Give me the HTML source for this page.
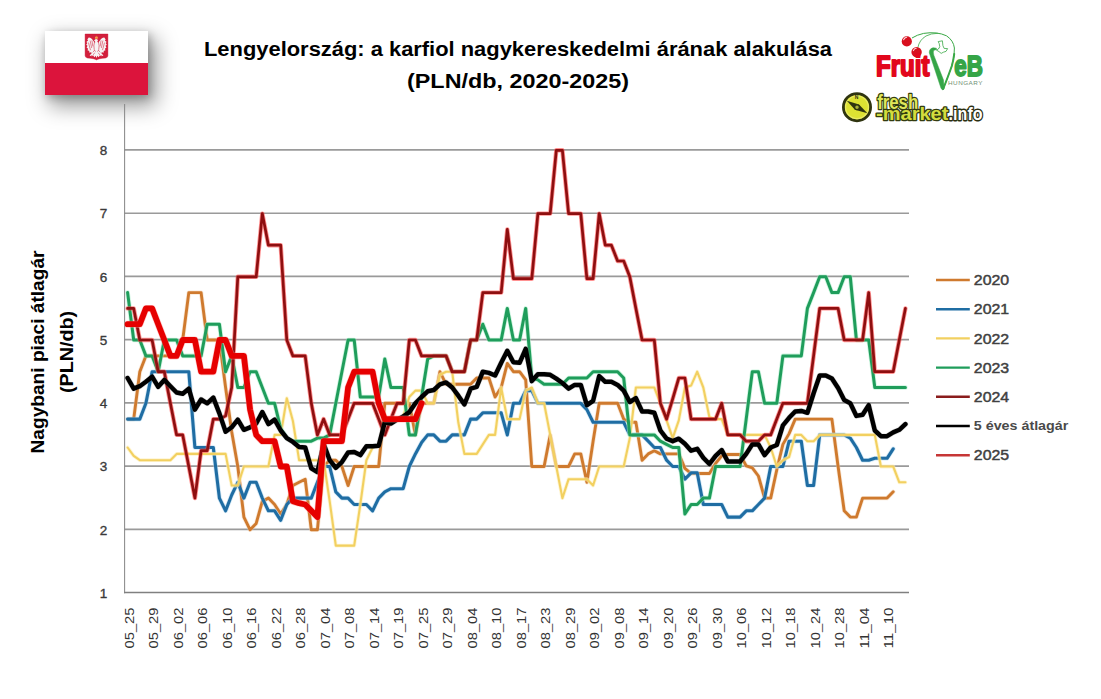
<!DOCTYPE html>
<html><head><meta charset="utf-8"><title>Lengyelország: a karfiol nagykereskedelmi árának alakulása</title>
<style>
html,body{margin:0;padding:0;background:#fff;}
body{width:1101px;height:699px;position:relative;overflow:hidden;font-family:"Liberation Sans",sans-serif;}
.flag{position:absolute;left:45px;top:31px;width:103px;height:64px;box-shadow:6px 9px 20px 2px rgba(0,0,0,.40),2px 3px 8px rgba(0,0,0,.22);background:linear-gradient(#fff 0,#fff 50%,#dc143c 50%,#dc143c 100%);}
</style></head><body>
<div class="flag"></div>
<svg style="position:absolute;left:80px;top:30px" width="34" height="34" viewBox="80 30 34 34">
<path d="M85.1 34 H107.9 V55.6 Q107.9 57.6 105.6 58 Q98.5 58.4 96.5 59.9 Q94.5 58.4 87.4 58 Q85.1 57.6 85.1 55.6 Z" fill="#d21f3c" stroke="#c8102e" stroke-width="0.4"/>
<g fill="#f6f4f4">
<path d="M95.8 44 L93.8 41.6 Q91.5 37.6 88.7 37.6 L87.3 39.6 L88.1 40.4 L86.3 42 L87.4 43 L86.2 44.8 L87.5 45.8 L86.6 47.8 L88 48.6 L87.6 50.6 L89.2 50.8 L89.4 52.8 L91 52.2 L92.2 53.4 L93.2 51.4 L95 49.6 Z"/>
<path d="M97.2 44 L99.2 41.6 Q101.5 37.6 104.3 37.6 L105.7 39.6 L104.9 40.4 L106.7 42 L105.6 43 L106.8 44.8 L105.5 45.8 L106.4 47.8 L105.0 48.6 L105.4 50.6 L103.8 50.8 L103.6 52.8 L102.0 52.2 L100.8 53.4 L99.8 51.4 L98.0 49.6 Z"/>
<path d="M94.8 50.5 L91.4 53.6 L89.6 55.6 L90.8 56 L91.6 55 L91.8 56.4 L92.8 55.2 L93.6 56 L93.4 54 L95.6 52 Z"/>
<path d="M98.2 50.5 L101.6 53.6 L103.4 55.6 L102.2 56 L101.4 55 L101.2 56.4 L100.2 55.2 L99.4 56 L99.6 54 L97.4 52 Z"/>
<ellipse cx="96.5" cy="46.6" rx="2.2" ry="5"/>
<circle cx="96.2" cy="40.6" r="1.7"/>
<path d="M93.9 40.7 L95.3 39.7 L95.3 41.5 Z"/>
<path d="M96.5 50 L93.2 55.4 L94.4 57.2 L95.6 55.8 L96.5 58 L97.4 55.8 L98.6 57.2 L99.8 55.4 Z"/>
</g>
<g stroke="#d21f3c" stroke-width="0.55" fill="none" stroke-linecap="round"><path d="M94.4 42.4 Q93.4 45.6 94.2 49.4"/><path d="M98.6 42.4 Q99.6 45.6 98.8 49.4"/><path d="M94.6 41.6 L93.6 40.2"/><path d="M98 41.6 L99.2 40.2"/><path d="M90.2 41 L91.6 47.6 M88.6 43 L90.4 49.8 M92 40.8 L92.8 46"/><path d="M102.8 41 L101.4 47.6 M104.4 43 L102.6 49.8 M101 40.8 L100.2 46"/></g>
<path d="M95 38.7 L95 36.2 L95.9 37.2 L96.4 35.6 L96.9 37.2 L97.8 36.2 L97.8 38.7 Z" fill="#f6a24a"/>
</svg>
<svg style="position:absolute;left:830px;top:20px;font-family:'Liberation Sans',sans-serif" width="180" height="110" viewBox="830 20 180 110">
<!-- FruitVeB -->
<g fill="none" stroke="#39a845" stroke-linecap="round">
<path d="M943.2 89 Q949 74 951.8 66 Q954.8 56 954.4 48 Q953.5 40.5 946.5 35.8 Q937 31.3 923.6 33.4 Q917 34.8 912.3 37.8" stroke-width="1.0"/>
<path d="M943.2 89 Q949 74 951.8 66 Q953.6 59.5 954.2 54" stroke-width="2.0"/>
<path d="M917.9 47.3 Q919.3 40 926 36 Q931 33.3 937.5 33.3" stroke-width="0.8"/>
</g>
<path d="M936.4 48.2 Q932.5 46.9 930.6 48.9 Q929 50.6 929.3 52.8 L941.1 88.6 L942.7 90 L944.2 88.4 L943.5 80 L933.8 55.2 Q932.7 51.3 934 50.2 Q935 49.5 936.4 49.9 Z" fill="#35a547" stroke="#35a547" stroke-width="0.5" stroke-linejoin="round"/>
<path d="M938.2 41.6 L942.4 40.8 L942.9 45.6 L944.1 48.4 L947.6 48.6 L946 51.4 L943.4 52.2 L941.2 53.4 L939 51.6 L936.6 50.2 L938.4 49 L939.8 46.8 L939.2 43.6 Z" fill="#fff" stroke="#39a845" stroke-width="0.8" stroke-linejoin="round"/>
<circle cx="906.8" cy="41.4" r="5.1" fill="#d80f1e"/>
<circle cx="916.6" cy="52.1" r="5.2" fill="#d80f1e"/>
<path d="M903.6 39.8 q0.9-2.4 3-2.6" stroke="#fff" stroke-width="1.1" fill="none" stroke-linecap="round" opacity=".85"/>
<path d="M913.4 50.6 q0.8-2.2 2.8-2.4" stroke="#fff" stroke-width="1.1" fill="none" stroke-linecap="round" opacity=".85"/>
<text x="876" y="76.4" font-size="29.4" font-weight="bold" fill="#e2071c" stroke="#e2071c" stroke-width="2.0" stroke-linejoin="round" textLength="53.4" lengthAdjust="spacingAndGlyphs">Fruit</text>
<text x="954.2" y="76.4" font-size="29.4" font-weight="bold" fill="#35a547" stroke="#35a547" stroke-width="1.8" stroke-linejoin="round" textLength="28.6" lengthAdjust="spacingAndGlyphs">eB</text>
<text x="948" y="85.2" font-size="5.2" fill="#6f8f73" textLength="35" lengthAdjust="spacingAndGlyphs" letter-spacing="0.4">HUNGARY</text>
<!-- fresh-market.info -->
<circle cx="857" cy="107.2" r="13.6" fill="#dde233" stroke="#2f3410" stroke-width="2.8"/>
<circle cx="857" cy="107.2" r="11.4" fill="none" stroke="#eef07a" stroke-width="1.2" opacity=".7"/>
<path d="M846.8 100.8 L859 104.6 L867.4 113.2 L855 109.8 Z" fill="#2f3410"/>
<circle cx="857" cy="107.2" r="2.4" fill="#a9b03a" stroke="#2f3410" stroke-width="1.3"/>
<text x="854.8" y="99.4" font-size="5" font-weight="bold" fill="#2f3410">N</text>
<g font-weight="bold" stroke-linejoin="round" paint-order="stroke fill">
<text x="877.2" y="109" font-size="20" fill="#dfe65a" stroke="#333c10" stroke-width="2.6" textLength="41" lengthAdjust="spacingAndGlyphs">fresh</text>
<text x="876" y="120.4" font-size="19" fill="#d3dc3e" stroke="#333c10" stroke-width="2.6" textLength="72.4" lengthAdjust="spacingAndGlyphs">-market</text>
<text x="948.6" y="120.4" font-size="19" fill="#ffffff" stroke="#2a2e10" stroke-width="2.8" textLength="34" lengthAdjust="spacingAndGlyphs">.info</text>
</g>
</svg>
<svg width="1101" height="699" viewBox="0 0 1101 699" style="position:absolute;left:0;top:0;font-family:'Liberation Sans',sans-serif">
<line x1="124.5" x2="909" y1="529.4" y2="529.4" stroke="#9a9a9a" stroke-width="1.6"/>
<line x1="124.5" x2="909" y1="466.1" y2="466.1" stroke="#9a9a9a" stroke-width="1.6"/>
<line x1="124.5" x2="909" y1="402.9" y2="402.9" stroke="#9a9a9a" stroke-width="1.6"/>
<line x1="124.5" x2="909" y1="339.6" y2="339.6" stroke="#9a9a9a" stroke-width="1.6"/>
<line x1="124.5" x2="909" y1="276.4" y2="276.4" stroke="#9a9a9a" stroke-width="1.6"/>
<line x1="124.5" x2="909" y1="213.2" y2="213.2" stroke="#9a9a9a" stroke-width="1.6"/>
<line x1="124.5" x2="909" y1="149.9" y2="149.9" stroke="#9a9a9a" stroke-width="1.6"/>
<line x1="124.6" x2="124.6" y1="104" y2="593.2" stroke="#8a8a8a" stroke-width="1.05"/>
<line x1="124" x2="909" y1="592.5" y2="592.5" stroke="#808080" stroke-width="1.4"/>
<text x="103.5" y="597.8" font-size="13.5" fill="#3a3a3a" stroke="#3a3a3a" stroke-width="0.35" text-anchor="middle">1</text>
<text x="103.5" y="534.6" font-size="13.5" fill="#3a3a3a" stroke="#3a3a3a" stroke-width="0.35" text-anchor="middle">2</text>
<text x="103.5" y="471.3" font-size="13.5" fill="#3a3a3a" stroke="#3a3a3a" stroke-width="0.35" text-anchor="middle">3</text>
<text x="103.5" y="408.1" font-size="13.5" fill="#3a3a3a" stroke="#3a3a3a" stroke-width="0.35" text-anchor="middle">4</text>
<text x="103.5" y="344.8" font-size="13.5" fill="#3a3a3a" stroke="#3a3a3a" stroke-width="0.35" text-anchor="middle">5</text>
<text x="103.5" y="281.6" font-size="13.5" fill="#3a3a3a" stroke="#3a3a3a" stroke-width="0.35" text-anchor="middle">6</text>
<text x="103.5" y="218.4" font-size="13.5" fill="#3a3a3a" stroke="#3a3a3a" stroke-width="0.35" text-anchor="middle">7</text>
<text x="103.5" y="155.1" font-size="13.5" fill="#3a3a3a" stroke="#3a3a3a" stroke-width="0.35" text-anchor="middle">8</text>
<text transform="translate(133.5,648.5) rotate(-90)" font-size="13" fill="#333" textLength="41" lengthAdjust="spacingAndGlyphs">05_25</text>
<text transform="translate(158.0,648.5) rotate(-90)" font-size="13" fill="#333" textLength="41" lengthAdjust="spacingAndGlyphs">05_29</text>
<text transform="translate(182.5,648.5) rotate(-90)" font-size="13" fill="#333" textLength="41" lengthAdjust="spacingAndGlyphs">06_02</text>
<text transform="translate(207.0,648.5) rotate(-90)" font-size="13" fill="#333" textLength="41" lengthAdjust="spacingAndGlyphs">06_06</text>
<text transform="translate(231.5,648.5) rotate(-90)" font-size="13" fill="#333" textLength="41" lengthAdjust="spacingAndGlyphs">06_10</text>
<text transform="translate(256.0,648.5) rotate(-90)" font-size="13" fill="#333" textLength="41" lengthAdjust="spacingAndGlyphs">06_16</text>
<text transform="translate(280.5,648.5) rotate(-90)" font-size="13" fill="#333" textLength="41" lengthAdjust="spacingAndGlyphs">06_22</text>
<text transform="translate(305.0,648.5) rotate(-90)" font-size="13" fill="#333" textLength="41" lengthAdjust="spacingAndGlyphs">06_28</text>
<text transform="translate(329.5,648.5) rotate(-90)" font-size="13" fill="#333" textLength="41" lengthAdjust="spacingAndGlyphs">07_04</text>
<text transform="translate(354.0,648.5) rotate(-90)" font-size="13" fill="#333" textLength="41" lengthAdjust="spacingAndGlyphs">07_08</text>
<text transform="translate(378.5,648.5) rotate(-90)" font-size="13" fill="#333" textLength="41" lengthAdjust="spacingAndGlyphs">07_14</text>
<text transform="translate(403.0,648.5) rotate(-90)" font-size="13" fill="#333" textLength="41" lengthAdjust="spacingAndGlyphs">07_19</text>
<text transform="translate(427.5,648.5) rotate(-90)" font-size="13" fill="#333" textLength="41" lengthAdjust="spacingAndGlyphs">07_25</text>
<text transform="translate(452.0,648.5) rotate(-90)" font-size="13" fill="#333" textLength="41" lengthAdjust="spacingAndGlyphs">07_29</text>
<text transform="translate(476.5,648.5) rotate(-90)" font-size="13" fill="#333" textLength="41" lengthAdjust="spacingAndGlyphs">08_04</text>
<text transform="translate(501.0,648.5) rotate(-90)" font-size="13" fill="#333" textLength="41" lengthAdjust="spacingAndGlyphs">08_10</text>
<text transform="translate(525.5,648.5) rotate(-90)" font-size="13" fill="#333" textLength="41" lengthAdjust="spacingAndGlyphs">08_17</text>
<text transform="translate(550.0,648.5) rotate(-90)" font-size="13" fill="#333" textLength="41" lengthAdjust="spacingAndGlyphs">08_23</text>
<text transform="translate(574.5,648.5) rotate(-90)" font-size="13" fill="#333" textLength="41" lengthAdjust="spacingAndGlyphs">08_29</text>
<text transform="translate(599.0,648.5) rotate(-90)" font-size="13" fill="#333" textLength="41" lengthAdjust="spacingAndGlyphs">09_02</text>
<text transform="translate(623.5,648.5) rotate(-90)" font-size="13" fill="#333" textLength="41" lengthAdjust="spacingAndGlyphs">09_08</text>
<text transform="translate(648.0,648.5) rotate(-90)" font-size="13" fill="#333" textLength="41" lengthAdjust="spacingAndGlyphs">09_14</text>
<text transform="translate(672.5,648.5) rotate(-90)" font-size="13" fill="#333" textLength="41" lengthAdjust="spacingAndGlyphs">09_20</text>
<text transform="translate(697.0,648.5) rotate(-90)" font-size="13" fill="#333" textLength="41" lengthAdjust="spacingAndGlyphs">09_26</text>
<text transform="translate(721.5,648.5) rotate(-90)" font-size="13" fill="#333" textLength="41" lengthAdjust="spacingAndGlyphs">09_30</text>
<text transform="translate(746.0,648.5) rotate(-90)" font-size="13" fill="#333" textLength="41" lengthAdjust="spacingAndGlyphs">10_06</text>
<text transform="translate(770.5,648.5) rotate(-90)" font-size="13" fill="#333" textLength="41" lengthAdjust="spacingAndGlyphs">10_12</text>
<text transform="translate(795.0,648.5) rotate(-90)" font-size="13" fill="#333" textLength="41" lengthAdjust="spacingAndGlyphs">10_18</text>
<text transform="translate(819.5,648.5) rotate(-90)" font-size="13" fill="#333" textLength="41" lengthAdjust="spacingAndGlyphs">10_24</text>
<text transform="translate(844.0,648.5) rotate(-90)" font-size="13" fill="#333" textLength="41" lengthAdjust="spacingAndGlyphs">10_28</text>
<text transform="translate(868.5,648.5) rotate(-90)" font-size="13" fill="#333" textLength="41" lengthAdjust="spacingAndGlyphs">11_04</text>
<text transform="translate(893.0,648.5) rotate(-90)" font-size="13" fill="#333" textLength="41" lengthAdjust="spacingAndGlyphs">11_10</text>
<polyline points="127.6,419.1 133.7,419.1 139.8,371.7 145.9,355.9 152.1,355.9 158.2,355.9 164.3,355.9 170.4,355.9 176.6,355.9 182.7,340.0 188.8,292.6 194.9,292.6 201.1,292.6 207.2,340.0 213.3,340.0 219.4,340.0 225.6,387.5 231.7,431.7 237.8,466.5 243.9,517.1 250.1,529.8 256.2,523.4 262.3,501.3 268.4,498.1 274.6,504.5 280.7,514.0 286.8,504.5 292.9,485.5 299.1,482.3 305.2,479.2 311.3,529.8 317.4,529.8 323.6,466.5 329.7,460.2 335.8,460.2 341.9,466.5 348.1,485.5 354.2,466.5 360.3,466.5 366.4,466.5 372.6,466.5 378.7,466.5 384.8,403.3 390.9,403.3 397.1,403.3 403.2,403.3 409.3,403.3 415.4,434.9 421.6,403.3 427.7,403.3 433.8,403.3 439.9,371.7 446.1,384.3 452.2,384.3 458.3,384.3 464.4,384.3 470.6,384.3 476.7,378.0 482.8,378.0 488.9,378.0 495.1,397.0 501.2,387.5 507.3,363.4 513.4,371.7 519.6,371.7 525.7,379.9 531.8,466.5 537.9,466.5 544.1,466.5 550.2,434.9 556.3,466.5 562.4,466.5 568.6,466.5 574.7,453.9 580.8,453.9 586.9,482.3 593.1,441.2 599.2,403.3 605.3,403.3 611.4,403.3 617.6,403.3 623.7,419.1 629.8,422.3 635.9,422.3 642.1,460.2 648.2,453.9 654.3,450.7 660.4,453.9 666.6,453.9 672.7,453.9 678.8,453.9 684.9,468.4 691.1,473.5 697.2,473.5 703.3,473.5 709.4,473.5 715.6,463.4 721.7,455.8 727.8,454.5 733.9,454.5 740.1,454.5 746.2,465.9 752.3,467.8 758.4,476.0 764.6,498.1 770.7,498.1 776.8,469.7 782.9,444.4 789.1,433.6 795.2,419.1 801.3,419.1 807.4,419.1 813.6,419.1 819.7,419.1 825.8,419.1 831.9,419.1 838.1,466.5 844.2,510.8 850.3,517.1 856.4,517.1 862.6,498.1 868.7,498.1 874.8,498.1 880.9,498.1 887.1,498.1 893.2,491.8" fill="none" stroke="#f3d2b0" stroke-width="4.4" stroke-linejoin="round" stroke-linecap="round" stroke-opacity="0.5"/>
<polyline points="127.6,419.1 133.7,419.1 139.8,371.7 145.9,355.9 152.1,355.9 158.2,355.9 164.3,355.9 170.4,355.9 176.6,355.9 182.7,340.0 188.8,292.6 194.9,292.6 201.1,292.6 207.2,340.0 213.3,340.0 219.4,340.0 225.6,387.5 231.7,431.7 237.8,466.5 243.9,517.1 250.1,529.8 256.2,523.4 262.3,501.3 268.4,498.1 274.6,504.5 280.7,514.0 286.8,504.5 292.9,485.5 299.1,482.3 305.2,479.2 311.3,529.8 317.4,529.8 323.6,466.5 329.7,460.2 335.8,460.2 341.9,466.5 348.1,485.5 354.2,466.5 360.3,466.5 366.4,466.5 372.6,466.5 378.7,466.5 384.8,403.3 390.9,403.3 397.1,403.3 403.2,403.3 409.3,403.3 415.4,434.9 421.6,403.3 427.7,403.3 433.8,403.3 439.9,371.7 446.1,384.3 452.2,384.3 458.3,384.3 464.4,384.3 470.6,384.3 476.7,378.0 482.8,378.0 488.9,378.0 495.1,397.0 501.2,387.5 507.3,363.4 513.4,371.7 519.6,371.7 525.7,379.9 531.8,466.5 537.9,466.5 544.1,466.5 550.2,434.9 556.3,466.5 562.4,466.5 568.6,466.5 574.7,453.9 580.8,453.9 586.9,482.3 593.1,441.2 599.2,403.3 605.3,403.3 611.4,403.3 617.6,403.3 623.7,419.1 629.8,422.3 635.9,422.3 642.1,460.2 648.2,453.9 654.3,450.7 660.4,453.9 666.6,453.9 672.7,453.9 678.8,453.9 684.9,468.4 691.1,473.5 697.2,473.5 703.3,473.5 709.4,473.5 715.6,463.4 721.7,455.8 727.8,454.5 733.9,454.5 740.1,454.5 746.2,465.9 752.3,467.8 758.4,476.0 764.6,498.1 770.7,498.1 776.8,469.7 782.9,444.4 789.1,433.6 795.2,419.1 801.3,419.1 807.4,419.1 813.6,419.1 819.7,419.1 825.8,419.1 831.9,419.1 838.1,466.5 844.2,510.8 850.3,517.1 856.4,517.1 862.6,498.1 868.7,498.1 874.8,498.1 880.9,498.1 887.1,498.1 893.2,491.8" fill="none" stroke="#cf7a2e" stroke-width="2.9" stroke-linejoin="round" stroke-linecap="round" />
<polyline points="127.6,419.1 133.7,419.1 139.8,419.1 145.9,403.3 152.1,371.7 158.2,371.7 164.3,371.7 170.4,371.7 176.6,371.7 182.7,371.7 188.8,371.7 194.9,447.5 201.1,447.5 207.2,447.5 213.3,447.5 219.4,498.1 225.6,510.8 231.7,495.0 237.8,482.3 243.9,498.1 250.1,482.3 256.2,482.3 262.3,498.1 268.4,510.8 274.6,510.8 280.7,520.3 286.8,504.5 292.9,498.1 299.1,498.1 305.2,498.1 311.3,498.1 317.4,482.3 323.6,466.5 329.7,466.5 335.8,491.8 341.9,498.1 348.1,498.1 354.2,504.5 360.3,504.5 366.4,504.5 372.6,510.8 378.7,498.1 384.8,491.8 390.9,488.7 397.1,488.7 403.2,488.7 409.3,466.5 415.4,453.9 421.6,442.5 427.7,434.9 433.8,434.9 439.9,441.2 446.1,441.2 452.2,434.9 458.3,434.9 464.4,434.9 470.6,419.1 476.7,419.1 482.8,412.8 488.9,412.8 495.1,412.8 501.2,412.8 507.3,434.9 513.4,403.3 519.6,403.3 525.7,390.6 531.8,390.6 537.9,403.3 544.1,403.3 550.2,403.3 556.3,403.3 562.4,403.3 568.6,403.3 574.7,403.3 580.8,403.3 586.9,409.6 593.1,422.3 599.2,422.3 605.3,422.3 611.4,422.3 617.6,422.3 623.7,422.3 629.8,434.9 635.9,434.9 642.1,434.9 648.2,441.2 654.3,447.5 660.4,447.5 666.6,460.2 672.7,466.5 678.8,466.5 684.9,479.2 691.1,472.8 697.2,472.8 703.3,504.5 709.4,504.5 715.6,504.5 721.7,504.5 727.8,517.1 733.9,517.1 740.1,517.1 746.2,510.8 752.3,510.8 758.4,504.5 764.6,498.1 770.7,466.5 776.8,466.5 782.9,466.5 789.1,441.2 795.2,441.2 801.3,441.2 807.4,485.5 813.6,485.5 819.7,434.9 825.8,434.9 831.9,434.9 838.1,434.9 844.2,434.9 850.3,438.1 856.4,447.5 862.6,460.2 868.7,460.2 874.8,458.3 880.9,458.3 887.1,458.3 893.2,448.8" fill="none" stroke="#a9d4ee" stroke-width="4.6" stroke-linejoin="round" stroke-linecap="round" stroke-opacity="0.5"/>
<polyline points="127.6,419.1 133.7,419.1 139.8,419.1 145.9,403.3 152.1,371.7 158.2,371.7 164.3,371.7 170.4,371.7 176.6,371.7 182.7,371.7 188.8,371.7 194.9,447.5 201.1,447.5 207.2,447.5 213.3,447.5 219.4,498.1 225.6,510.8 231.7,495.0 237.8,482.3 243.9,498.1 250.1,482.3 256.2,482.3 262.3,498.1 268.4,510.8 274.6,510.8 280.7,520.3 286.8,504.5 292.9,498.1 299.1,498.1 305.2,498.1 311.3,498.1 317.4,482.3 323.6,466.5 329.7,466.5 335.8,491.8 341.9,498.1 348.1,498.1 354.2,504.5 360.3,504.5 366.4,504.5 372.6,510.8 378.7,498.1 384.8,491.8 390.9,488.7 397.1,488.7 403.2,488.7 409.3,466.5 415.4,453.9 421.6,442.5 427.7,434.9 433.8,434.9 439.9,441.2 446.1,441.2 452.2,434.9 458.3,434.9 464.4,434.9 470.6,419.1 476.7,419.1 482.8,412.8 488.9,412.8 495.1,412.8 501.2,412.8 507.3,434.9 513.4,403.3 519.6,403.3 525.7,390.6 531.8,390.6 537.9,403.3 544.1,403.3 550.2,403.3 556.3,403.3 562.4,403.3 568.6,403.3 574.7,403.3 580.8,403.3 586.9,409.6 593.1,422.3 599.2,422.3 605.3,422.3 611.4,422.3 617.6,422.3 623.7,422.3 629.8,434.9 635.9,434.9 642.1,434.9 648.2,441.2 654.3,447.5 660.4,447.5 666.6,460.2 672.7,466.5 678.8,466.5 684.9,479.2 691.1,472.8 697.2,472.8 703.3,504.5 709.4,504.5 715.6,504.5 721.7,504.5 727.8,517.1 733.9,517.1 740.1,517.1 746.2,510.8 752.3,510.8 758.4,504.5 764.6,498.1 770.7,466.5 776.8,466.5 782.9,466.5 789.1,441.2 795.2,441.2 801.3,441.2 807.4,485.5 813.6,485.5 819.7,434.9 825.8,434.9 831.9,434.9 838.1,434.9 844.2,434.9 850.3,438.1 856.4,447.5 862.6,460.2 868.7,460.2 874.8,458.3 880.9,458.3 887.1,458.3 893.2,448.8" fill="none" stroke="#1f6da3" stroke-width="3.1" stroke-linejoin="round" stroke-linecap="round" />
<polyline points="127.6,447.5 133.7,455.8 139.8,460.2 145.9,460.2 152.1,460.2 158.2,460.2 164.3,460.2 170.4,460.2 176.6,453.9 182.7,453.9 188.8,453.9 194.9,453.9 201.1,453.9 207.2,453.9 213.3,453.9 219.4,453.9 225.6,453.9 231.7,485.5 237.8,485.5 243.9,466.5 250.1,466.5 256.2,466.5 262.3,466.5 268.4,466.5 274.6,434.9 280.7,434.9 286.8,398.2 292.9,421.0 299.1,460.2 305.2,460.2 311.3,460.2 317.4,460.2 323.6,460.2 329.7,501.3 335.8,545.6 341.9,545.6 348.1,545.6 354.2,545.6 360.3,504.5 366.4,460.2 372.6,447.5 378.7,445.7 384.8,422.3 390.9,423.5 397.1,419.7 403.2,416.6 409.3,397.0 415.4,390.6 421.6,390.6 427.7,403.3 433.8,403.3 439.9,374.8 446.1,371.7 452.2,371.7 458.3,422.3 464.4,453.9 470.6,453.9 476.7,453.9 482.8,444.4 488.9,434.9 495.1,434.9 501.2,387.5 507.3,419.1 513.4,419.1 519.6,419.1 525.7,390.6 531.8,387.5 537.9,403.3 544.1,403.3 550.2,434.9 556.3,466.5 562.4,498.1 568.6,479.2 574.7,479.2 580.8,479.2 586.9,479.2 593.1,485.5 599.2,466.5 605.3,466.5 611.4,466.5 617.6,466.5 623.7,466.5 629.8,438.1 635.9,387.5 642.1,387.5 648.2,387.5 654.3,387.5 660.4,403.3 666.6,420.4 672.7,438.1 678.8,420.4 684.9,387.5 691.1,385.6 697.2,371.7 703.3,387.5 709.4,417.2 715.6,419.1 721.7,419.1 727.8,434.9 733.9,434.9 740.1,434.9 746.2,434.9 752.3,434.9 758.4,434.9 764.6,434.9 770.7,447.5 776.8,466.5 782.9,460.2 789.1,457.0 795.2,434.9 801.3,434.9 807.4,441.2 813.6,441.2 819.7,434.9 825.8,434.9 831.9,434.9 838.1,434.9 844.2,434.9 850.3,434.9 856.4,434.9 862.6,434.9 868.7,434.9 874.8,434.9 880.9,466.5 887.1,466.5 893.2,466.5 899.3,482.3 905.4,482.3" fill="none" stroke="#fdeeb5" stroke-width="3.8" stroke-linejoin="round" stroke-linecap="round" stroke-opacity="0.6"/>
<polyline points="127.6,447.5 133.7,455.8 139.8,460.2 145.9,460.2 152.1,460.2 158.2,460.2 164.3,460.2 170.4,460.2 176.6,453.9 182.7,453.9 188.8,453.9 194.9,453.9 201.1,453.9 207.2,453.9 213.3,453.9 219.4,453.9 225.6,453.9 231.7,485.5 237.8,485.5 243.9,466.5 250.1,466.5 256.2,466.5 262.3,466.5 268.4,466.5 274.6,434.9 280.7,434.9 286.8,398.2 292.9,421.0 299.1,460.2 305.2,460.2 311.3,460.2 317.4,460.2 323.6,460.2 329.7,501.3 335.8,545.6 341.9,545.6 348.1,545.6 354.2,545.6 360.3,504.5 366.4,460.2 372.6,447.5 378.7,445.7 384.8,422.3 390.9,423.5 397.1,419.7 403.2,416.6 409.3,397.0 415.4,390.6 421.6,390.6 427.7,403.3 433.8,403.3 439.9,374.8 446.1,371.7 452.2,371.7 458.3,422.3 464.4,453.9 470.6,453.9 476.7,453.9 482.8,444.4 488.9,434.9 495.1,434.9 501.2,387.5 507.3,419.1 513.4,419.1 519.6,419.1 525.7,390.6 531.8,387.5 537.9,403.3 544.1,403.3 550.2,434.9 556.3,466.5 562.4,498.1 568.6,479.2 574.7,479.2 580.8,479.2 586.9,479.2 593.1,485.5 599.2,466.5 605.3,466.5 611.4,466.5 617.6,466.5 623.7,466.5 629.8,438.1 635.9,387.5 642.1,387.5 648.2,387.5 654.3,387.5 660.4,403.3 666.6,420.4 672.7,438.1 678.8,420.4 684.9,387.5 691.1,385.6 697.2,371.7 703.3,387.5 709.4,417.2 715.6,419.1 721.7,419.1 727.8,434.9 733.9,434.9 740.1,434.9 746.2,434.9 752.3,434.9 758.4,434.9 764.6,434.9 770.7,447.5 776.8,466.5 782.9,460.2 789.1,457.0 795.2,434.9 801.3,434.9 807.4,441.2 813.6,441.2 819.7,434.9 825.8,434.9 831.9,434.9 838.1,434.9 844.2,434.9 850.3,434.9 856.4,434.9 862.6,434.9 868.7,434.9 874.8,434.9 880.9,466.5 887.1,466.5 893.2,466.5 899.3,482.3 905.4,482.3" fill="none" stroke="#f2d060" stroke-width="2.1" stroke-linejoin="round" stroke-linecap="round" />
<polyline points="127.6,292.6 133.7,340.0 139.8,340.0 145.9,355.9 152.1,355.9 158.2,371.7 164.3,340.0 170.4,340.0 176.6,340.0 182.7,355.9 188.8,355.9 194.9,355.9 201.1,355.9 207.2,324.2 213.3,324.2 219.4,324.2 225.6,371.7 231.7,355.9 237.8,387.5 243.9,387.5 250.1,371.7 256.2,371.7 262.3,387.5 268.4,403.3 274.6,403.3 280.7,428.6 286.8,438.1 292.9,441.2 299.1,441.2 305.2,441.2 311.3,441.2 317.4,438.1 323.6,438.1 329.7,434.9 335.8,403.3 341.9,371.7 348.1,340.0 354.2,340.0 360.3,397.0 366.4,397.0 372.6,397.0 378.7,397.0 384.8,359.0 390.9,387.5 397.1,387.5 403.2,387.5 409.3,434.9 415.4,434.9 421.6,397.0 427.7,359.0 433.8,355.9 439.9,355.9 446.1,355.9 452.2,371.7 458.3,371.7 464.4,371.7 470.6,340.0 476.7,340.0 482.8,324.2 488.9,340.0 495.1,340.0 501.2,340.0 507.3,308.4 513.4,340.0 519.6,340.0 525.7,308.4 531.8,378.0 537.9,379.9 544.1,384.3 550.2,384.3 556.3,384.3 562.4,384.3 568.6,378.0 574.7,378.0 580.8,378.0 586.9,378.0 593.1,371.7 599.2,371.7 605.3,371.7 611.4,371.7 617.6,371.7 623.7,378.0 629.8,434.9 635.9,434.9 642.1,434.9 648.2,434.9 654.3,434.9 660.4,441.2 666.6,444.4 672.7,447.5 678.8,447.5 684.9,514.0 691.1,504.5 697.2,504.5 703.3,498.1 709.4,498.1 715.6,466.5 721.7,466.5 727.8,466.5 733.9,466.5 740.1,466.5 746.2,419.1 752.3,371.7 758.4,371.7 764.6,403.3 770.7,403.3 776.8,403.3 782.9,355.9 789.1,355.9 795.2,355.9 801.3,355.9 807.4,308.4 813.6,292.6 819.7,276.8 825.8,276.8 831.9,292.6 838.1,292.6 844.2,276.8 850.3,276.8 856.4,340.0 862.6,340.0 868.7,340.0 874.8,387.5 880.9,387.5 887.1,387.5 893.2,387.5 899.3,387.5 905.4,387.5" fill="none" stroke="#a6ecc6" stroke-width="4.6" stroke-linejoin="round" stroke-linecap="round" stroke-opacity="0.55"/>
<polyline points="127.6,292.6 133.7,340.0 139.8,340.0 145.9,355.9 152.1,355.9 158.2,371.7 164.3,340.0 170.4,340.0 176.6,340.0 182.7,355.9 188.8,355.9 194.9,355.9 201.1,355.9 207.2,324.2 213.3,324.2 219.4,324.2 225.6,371.7 231.7,355.9 237.8,387.5 243.9,387.5 250.1,371.7 256.2,371.7 262.3,387.5 268.4,403.3 274.6,403.3 280.7,428.6 286.8,438.1 292.9,441.2 299.1,441.2 305.2,441.2 311.3,441.2 317.4,438.1 323.6,438.1 329.7,434.9 335.8,403.3 341.9,371.7 348.1,340.0 354.2,340.0 360.3,397.0 366.4,397.0 372.6,397.0 378.7,397.0 384.8,359.0 390.9,387.5 397.1,387.5 403.2,387.5 409.3,434.9 415.4,434.9 421.6,397.0 427.7,359.0 433.8,355.9 439.9,355.9 446.1,355.9 452.2,371.7 458.3,371.7 464.4,371.7 470.6,340.0 476.7,340.0 482.8,324.2 488.9,340.0 495.1,340.0 501.2,340.0 507.3,308.4 513.4,340.0 519.6,340.0 525.7,308.4 531.8,378.0 537.9,379.9 544.1,384.3 550.2,384.3 556.3,384.3 562.4,384.3 568.6,378.0 574.7,378.0 580.8,378.0 586.9,378.0 593.1,371.7 599.2,371.7 605.3,371.7 611.4,371.7 617.6,371.7 623.7,378.0 629.8,434.9 635.9,434.9 642.1,434.9 648.2,434.9 654.3,434.9 660.4,441.2 666.6,444.4 672.7,447.5 678.8,447.5 684.9,514.0 691.1,504.5 697.2,504.5 703.3,498.1 709.4,498.1 715.6,466.5 721.7,466.5 727.8,466.5 733.9,466.5 740.1,466.5 746.2,419.1 752.3,371.7 758.4,371.7 764.6,403.3 770.7,403.3 776.8,403.3 782.9,355.9 789.1,355.9 795.2,355.9 801.3,355.9 807.4,308.4 813.6,292.6 819.7,276.8 825.8,276.8 831.9,292.6 838.1,292.6 844.2,276.8 850.3,276.8 856.4,340.0 862.6,340.0 868.7,340.0 874.8,387.5 880.9,387.5 887.1,387.5 893.2,387.5 899.3,387.5 905.4,387.5" fill="none" stroke="#1f9d5b" stroke-width="3.0" stroke-linejoin="round" stroke-linecap="round" />
<polyline points="127.6,308.4 133.7,308.4 139.8,340.0 145.9,340.0 152.1,340.0 158.2,371.7 164.3,371.7 170.4,403.3 176.6,434.9 182.7,434.9 188.8,466.5 194.9,498.1 201.1,450.7 207.2,450.7 213.3,419.1 219.4,419.1 225.6,415.9 231.7,387.5 237.8,276.8 243.9,276.8 250.1,276.8 256.2,276.8 262.3,213.6 268.4,245.2 274.6,245.2 280.7,245.2 286.8,340.0 292.9,355.9 299.1,355.9 305.2,355.9 311.3,403.3 317.4,434.9 323.6,419.1 329.7,434.9 335.8,434.9 341.9,434.9 348.1,419.1 354.2,403.3 360.3,403.3 366.4,403.3 372.6,403.3 378.7,419.1 384.8,434.9 390.9,419.1 397.1,403.3 403.2,403.3 409.3,340.0 415.4,340.0 421.6,355.9 427.7,355.9 433.8,355.9 439.9,355.9 446.1,355.9 452.2,371.7 458.3,371.7 464.4,371.7 470.6,340.0 476.7,340.0 482.8,292.6 488.9,292.6 495.1,292.6 501.2,292.6 507.3,229.4 513.4,278.7 519.6,278.7 525.7,278.7 531.8,278.7 537.9,213.6 544.1,213.6 550.2,213.6 556.3,150.3 562.4,150.3 568.6,213.6 574.7,213.6 580.8,213.6 586.9,278.7 593.1,278.7 599.2,213.6 605.3,245.2 611.4,245.2 617.6,261.0 623.7,261.0 629.8,276.8 635.9,308.4 642.1,340.0 648.2,340.0 654.3,340.0 660.4,403.3 666.6,419.1 672.7,398.9 678.8,378.0 684.9,378.0 691.1,419.1 697.2,419.1 703.3,419.1 709.4,419.1 715.6,419.1 721.7,403.3 727.8,434.9 733.9,434.9 740.1,434.9 746.2,441.2 752.3,441.2 758.4,441.2 764.6,434.9 770.7,434.9 776.8,419.1 782.9,403.3 789.1,403.3 795.2,403.3 801.3,403.3 807.4,403.3 813.6,355.9 819.7,308.4 825.8,308.4 831.9,308.4 838.1,308.4 844.2,340.0 850.3,340.0 856.4,340.0 862.6,340.0 868.7,292.6 874.8,371.7 880.9,371.7 887.1,371.7 893.2,371.7 899.3,340.0 905.4,308.4" fill="none" stroke="#ff4a4a" stroke-width="4.4" stroke-linejoin="round" stroke-linecap="round" stroke-opacity="0.6"/>
<polyline points="127.6,308.4 133.7,308.4 139.8,340.0 145.9,340.0 152.1,340.0 158.2,371.7 164.3,371.7 170.4,403.3 176.6,434.9 182.7,434.9 188.8,466.5 194.9,498.1 201.1,450.7 207.2,450.7 213.3,419.1 219.4,419.1 225.6,415.9 231.7,387.5 237.8,276.8 243.9,276.8 250.1,276.8 256.2,276.8 262.3,213.6 268.4,245.2 274.6,245.2 280.7,245.2 286.8,340.0 292.9,355.9 299.1,355.9 305.2,355.9 311.3,403.3 317.4,434.9 323.6,419.1 329.7,434.9 335.8,434.9 341.9,434.9 348.1,419.1 354.2,403.3 360.3,403.3 366.4,403.3 372.6,403.3 378.7,419.1 384.8,434.9 390.9,419.1 397.1,403.3 403.2,403.3 409.3,340.0 415.4,340.0 421.6,355.9 427.7,355.9 433.8,355.9 439.9,355.9 446.1,355.9 452.2,371.7 458.3,371.7 464.4,371.7 470.6,340.0 476.7,340.0 482.8,292.6 488.9,292.6 495.1,292.6 501.2,292.6 507.3,229.4 513.4,278.7 519.6,278.7 525.7,278.7 531.8,278.7 537.9,213.6 544.1,213.6 550.2,213.6 556.3,150.3 562.4,150.3 568.6,213.6 574.7,213.6 580.8,213.6 586.9,278.7 593.1,278.7 599.2,213.6 605.3,245.2 611.4,245.2 617.6,261.0 623.7,261.0 629.8,276.8 635.9,308.4 642.1,340.0 648.2,340.0 654.3,340.0 660.4,403.3 666.6,419.1 672.7,398.9 678.8,378.0 684.9,378.0 691.1,419.1 697.2,419.1 703.3,419.1 709.4,419.1 715.6,419.1 721.7,403.3 727.8,434.9 733.9,434.9 740.1,434.9 746.2,441.2 752.3,441.2 758.4,441.2 764.6,434.9 770.7,434.9 776.8,419.1 782.9,403.3 789.1,403.3 795.2,403.3 801.3,403.3 807.4,403.3 813.6,355.9 819.7,308.4 825.8,308.4 831.9,308.4 838.1,308.4 844.2,340.0 850.3,340.0 856.4,340.0 862.6,340.0 868.7,292.6 874.8,371.7 880.9,371.7 887.1,371.7 893.2,371.7 899.3,340.0 905.4,308.4" fill="none" stroke="#8e0f10" stroke-width="2.7" stroke-linejoin="round" stroke-linecap="round" />
<polyline points="127.6,378.0 133.7,388.7 139.8,386.2 145.9,381.8 152.1,376.7 158.2,386.8 164.3,379.9 170.4,386.2 176.6,392.5 182.7,393.8 188.8,388.7 194.9,409.6 201.1,399.5 207.2,403.3 213.3,397.6 219.4,413.4 225.6,431.7 231.7,427.3 237.8,419.7 243.9,429.8 250.1,427.3 256.2,423.5 262.3,412.1 268.4,424.1 274.6,419.7 280.7,430.5 286.8,438.1 292.9,441.9 299.1,446.9 305.2,447.5 311.3,468.4 317.4,472.2 323.6,443.8 329.7,460.2 335.8,467.8 341.9,462.1 348.1,452.6 354.2,452.0 360.3,455.1 366.4,446.3 372.6,446.3 378.7,445.7 384.8,422.3 390.9,423.5 397.1,419.7 403.2,416.6 409.3,412.1 415.4,403.3 421.6,397.0 427.7,391.3 433.8,390.0 439.9,384.3 446.1,382.4 452.2,387.5 458.3,395.7 464.4,404.5 470.6,388.7 476.7,386.8 482.8,371.7 488.9,372.9 495.1,375.5 501.2,362.8 507.3,350.8 513.4,362.2 519.6,362.8 525.7,348.9 531.8,381.1 537.9,374.2 544.1,374.2 550.2,374.8 556.3,378.6 562.4,383.0 568.6,388.7 574.7,384.9 580.8,384.9 586.9,405.2 593.1,400.8 599.2,376.1 605.3,381.8 611.4,381.8 617.6,384.9 623.7,390.6 629.8,402.0 635.9,398.2 642.1,411.5 648.2,411.5 654.3,412.8 660.4,430.5 666.6,438.7 672.7,441.2 678.8,438.7 684.9,443.8 691.1,450.7 697.2,448.8 703.3,457.7 709.4,464.0 715.6,455.8 721.7,450.1 727.8,461.5 733.9,461.5 740.1,461.5 746.2,453.9 752.3,444.4 758.4,444.4 764.6,455.1 770.7,447.5 776.8,445.0 782.9,425.4 789.1,417.8 795.2,411.5 801.3,410.9 807.4,412.8 813.6,393.2 819.7,375.5 825.8,375.5 831.9,378.6 838.1,388.1 844.2,400.1 850.3,403.3 856.4,415.9 862.6,414.7 868.7,405.2 874.8,430.5 880.9,436.2 887.1,436.2 893.2,432.4 899.3,429.8 905.4,424.1" fill="none" stroke="#888" stroke-width="5.6" stroke-linejoin="round" stroke-linecap="round" stroke-opacity="0.3"/>
<polyline points="127.6,378.0 133.7,388.7 139.8,386.2 145.9,381.8 152.1,376.7 158.2,386.8 164.3,379.9 170.4,386.2 176.6,392.5 182.7,393.8 188.8,388.7 194.9,409.6 201.1,399.5 207.2,403.3 213.3,397.6 219.4,413.4 225.6,431.7 231.7,427.3 237.8,419.7 243.9,429.8 250.1,427.3 256.2,423.5 262.3,412.1 268.4,424.1 274.6,419.7 280.7,430.5 286.8,438.1 292.9,441.9 299.1,446.9 305.2,447.5 311.3,468.4 317.4,472.2 323.6,443.8 329.7,460.2 335.8,467.8 341.9,462.1 348.1,452.6 354.2,452.0 360.3,455.1 366.4,446.3 372.6,446.3 378.7,445.7 384.8,422.3 390.9,423.5 397.1,419.7 403.2,416.6 409.3,412.1 415.4,403.3 421.6,397.0 427.7,391.3 433.8,390.0 439.9,384.3 446.1,382.4 452.2,387.5 458.3,395.7 464.4,404.5 470.6,388.7 476.7,386.8 482.8,371.7 488.9,372.9 495.1,375.5 501.2,362.8 507.3,350.8 513.4,362.2 519.6,362.8 525.7,348.9 531.8,381.1 537.9,374.2 544.1,374.2 550.2,374.8 556.3,378.6 562.4,383.0 568.6,388.7 574.7,384.9 580.8,384.9 586.9,405.2 593.1,400.8 599.2,376.1 605.3,381.8 611.4,381.8 617.6,384.9 623.7,390.6 629.8,402.0 635.9,398.2 642.1,411.5 648.2,411.5 654.3,412.8 660.4,430.5 666.6,438.7 672.7,441.2 678.8,438.7 684.9,443.8 691.1,450.7 697.2,448.8 703.3,457.7 709.4,464.0 715.6,455.8 721.7,450.1 727.8,461.5 733.9,461.5 740.1,461.5 746.2,453.9 752.3,444.4 758.4,444.4 764.6,455.1 770.7,447.5 776.8,445.0 782.9,425.4 789.1,417.8 795.2,411.5 801.3,410.9 807.4,412.8 813.6,393.2 819.7,375.5 825.8,375.5 831.9,378.6 838.1,388.1 844.2,400.1 850.3,403.3 856.4,415.9 862.6,414.7 868.7,405.2 874.8,430.5 880.9,436.2 887.1,436.2 893.2,432.4 899.3,429.8 905.4,424.1" fill="none" stroke="#000" stroke-width="4.5" stroke-linejoin="round" stroke-linecap="round" />
<polyline points="127.6,324.2 133.7,324.2 139.8,324.2 145.9,308.4 152.1,308.4 158.2,324.2 164.3,340.0 170.4,355.9 176.6,355.9 182.7,340.0 188.8,340.0 194.9,340.0 201.1,371.7 207.2,371.7 213.3,371.7 219.4,340.0 225.6,340.0 231.7,355.9 237.8,355.9 243.9,355.9 250.1,409.6 256.2,434.9 262.3,441.2 268.4,441.2 274.6,441.2 280.7,466.5 286.8,466.5 292.9,501.3 299.1,503.2 305.2,504.5 311.3,510.8 317.4,517.1 323.6,441.2 329.7,441.2 335.8,441.2 341.9,441.2 348.1,387.5 354.2,371.7 360.3,371.7 366.4,371.7 372.6,371.7 378.7,403.3 384.8,419.1 390.9,419.1 397.1,419.1 403.2,419.1 409.3,419.1 415.4,419.1 421.6,403.3" fill="none" stroke="#ff9090" stroke-width="7.0" stroke-linejoin="round" stroke-linecap="round" stroke-opacity="0.5"/>
<polyline points="127.6,324.2 133.7,324.2 139.8,324.2 145.9,308.4 152.1,308.4 158.2,324.2 164.3,340.0 170.4,355.9 176.6,355.9 182.7,340.0 188.8,340.0 194.9,340.0 201.1,371.7 207.2,371.7 213.3,371.7 219.4,340.0 225.6,340.0 231.7,355.9 237.8,355.9 243.9,355.9 250.1,409.6 256.2,434.9 262.3,441.2 268.4,441.2 274.6,441.2 280.7,466.5 286.8,466.5 292.9,501.3 299.1,503.2 305.2,504.5 311.3,510.8 317.4,517.1 323.6,441.2 329.7,441.2 335.8,441.2 341.9,441.2 348.1,387.5 354.2,371.7 360.3,371.7 366.4,371.7 372.6,371.7 378.7,403.3 384.8,419.1 390.9,419.1 397.1,419.1 403.2,419.1 409.3,419.1 415.4,419.1 421.6,403.3" fill="none" stroke="#e60000" stroke-width="5.8" stroke-linejoin="round" stroke-linecap="round" />
<line x1="936" x2="969.8" y1="280.0" y2="280.0" stroke="#cf7a2e" stroke-width="2.4"/>
<text x="973.8" y="285.2" font-size="14.3" fill="#404040" stroke="#404040" stroke-width="0.45" textLength="35.4" lengthAdjust="spacingAndGlyphs">2020</text>
<line x1="936" x2="969.8" y1="309.2" y2="309.2" stroke="#1f6da3" stroke-width="2.4"/>
<text x="973.8" y="314.4" font-size="14.3" fill="#404040" stroke="#404040" stroke-width="0.45" textLength="35.4" lengthAdjust="spacingAndGlyphs">2021</text>
<line x1="936" x2="969.8" y1="338.4" y2="338.4" stroke="#f2d060" stroke-width="2.4"/>
<text x="973.8" y="343.6" font-size="14.3" fill="#404040" stroke="#404040" stroke-width="0.45" textLength="35.4" lengthAdjust="spacingAndGlyphs">2022</text>
<line x1="936" x2="969.8" y1="367.6" y2="367.6" stroke="#1f9d5b" stroke-width="2.4"/>
<text x="973.8" y="372.8" font-size="14.3" fill="#404040" stroke="#404040" stroke-width="0.45" textLength="35.4" lengthAdjust="spacingAndGlyphs">2023</text>
<line x1="936" x2="969.8" y1="396.8" y2="396.8" stroke="#8a1c1c" stroke-width="2.4"/>
<text x="973.8" y="402.0" font-size="14.3" fill="#404040" stroke="#404040" stroke-width="0.45" textLength="35.4" lengthAdjust="spacingAndGlyphs">2024</text>
<line x1="936" x2="969.8" y1="426.0" y2="426.0" stroke="#000" stroke-width="2.5999999999999996"/>
<text x="973.8" y="430.4" font-size="12.8" font-weight="bold" fill="#4a4a4a" textLength="94.5" lengthAdjust="spacingAndGlyphs">5 éves átlagár</text>
<line x1="936" x2="969.8" y1="455.2" y2="455.2" stroke="#c63636" stroke-width="2.4"/>
<text x="973.8" y="460.4" font-size="14.3" fill="#404040" stroke="#404040" stroke-width="0.45" textLength="35.4" lengthAdjust="spacingAndGlyphs">2025</text>
<text x="518" y="55.5" font-size="20" font-weight="bold" fill="#000" text-anchor="middle" textLength="628" lengthAdjust="spacingAndGlyphs">Lengyelország: a karfiol nagykereskedelmi árának alakulása</text>
<text x="518" y="88.4" font-size="20" font-weight="bold" fill="#000" text-anchor="middle" textLength="222" lengthAdjust="spacingAndGlyphs">(PLN/db, 2020-2025)</text>
<text transform="translate(44,352) rotate(-90)" font-size="18.5" font-weight="bold" fill="#000" text-anchor="middle" textLength="203" lengthAdjust="spacingAndGlyphs">Nagybani piaci átlagár</text>
<text transform="translate(73,352) rotate(-90)" font-size="18.5" font-weight="bold" fill="#000" text-anchor="middle" textLength="82" lengthAdjust="spacingAndGlyphs">(PLN/db)</text>
</svg>
</body></html>
